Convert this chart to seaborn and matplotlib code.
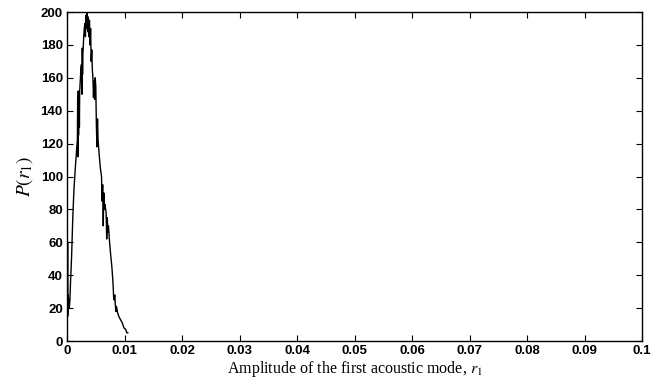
import matplotlib
matplotlib.use("Agg")
import matplotlib.pyplot as plt
import seaborn as sns
import pandas as pd

r1 = [0.0000, 0.00003, 0.00006, 0.0001, 0.00012, 0.00015, 0.0002, 0.00025, 0.0003, 0.0004,
      0.0005, 0.0006, 0.0008, 0.0010, 0.0012, 0.0014, 0.0016, 0.0017, 0.0018, 0.00185,
      0.0019, 0.00195, 0.0020, 0.00205, 0.0021, 0.00215, 0.0022, 0.0023, 0.0024, 0.0025,
      0.0026, 0.00265, 0.0027, 0.00275, 0.0028, 0.0029, 0.0030, 0.0031, 0.0032, 0.0033,
      0.0034, 0.0035, 0.0036, 0.0037, 0.0038, 0.0039, 0.0040, 0.0041, 0.0042, 0.0043,
      0.0044, 0.0045, 0.0046, 0.0047, 0.0048, 0.0049, 0.0050, 0.0051, 0.0052, 0.0053,
      0.0054, 0.0056, 0.0058, 0.0060, 0.0061, 0.0062, 0.0063, 0.0064, 0.0065, 0.0066,
      0.0068, 0.0069, 0.0070, 0.0071, 0.0072, 0.0074, 0.0076, 0.0078, 0.0080, 0.0081,
      0.0082, 0.0083, 0.0084, 0.0085, 0.0086, 0.0088, 0.0090, 0.0093, 0.0096, 0.0099,
      0.0102, 0.0104, 0.0106]
P = [0, 95, 20, 60, 15, 28, 18, 26, 22, 20,
     25, 35, 52, 75, 92, 103, 113, 118, 122, 148,
     112, 152, 125, 140, 150, 130, 152, 158, 165, 168,
     150, 178, 162, 175, 177, 185, 190, 193, 185, 198,
     190, 200, 188, 197, 185, 195, 180, 190, 170, 177,
     165, 160, 148, 158, 147, 160, 155, 132, 118, 135,
     122, 113, 105, 100, 85, 95, 70, 90, 80, 83,
     78, 62, 75, 66, 70, 60, 52, 45, 35, 27,
     25, 28, 22, 18, 21, 17, 15, 13, 11, 8,
     7, 5, 5]

df = pd.DataFrame({"r1": r1, "P": P})

sns.set_theme(style="white")
plt.rcParams["mathtext.fontset"] = "stix"

fig = plt.figure(figsize=(6.71, 3.80), dpi=100)
ax = fig.add_axes([0.0999, 0.1026, 0.8569, 0.8658])
sns.lineplot(data=df, x="r1", y="P", ax=ax, color="black", linewidth=1.0,
             estimator=None, sort=False)

ax.set_xlim(0, 0.1)
ax.set_ylim(0, 200)
ax.set_xticks([0, 0.01, 0.02, 0.03, 0.04, 0.05, 0.06, 0.07, 0.08, 0.09, 0.1])
ax.set_xticklabels(["0", "0.01", "0.02", "0.03", "0.04", "0.05", "0.06", "0.07", "0.08", "0.09", "0.1"])
ax.set_yticks(range(0, 201, 20))
for s in ax.spines.values():
    s.set_color("black")
    s.set_linewidth(1.0)
ax.tick_params(direction="in", length=4, width=0.8, top=True, right=True,
               bottom=True, left=True, labelsize=9.5, colors="black", pad=3)
for lab in ax.get_xticklabels() + ax.get_yticklabels():
    lab.set_fontweight("bold")
    lab.set_family("Liberation Sans")
ax.set_xlabel(r"Amplitude of the first acoustic mode, $r_1$", family="Liberation Serif",
              fontsize=11.5, labelpad=1, color="black")
ax.set_ylabel(r"$P(r_1)$", fontsize=14, labelpad=4, color="black")

fig.savefig("out.png", dpi=100, facecolor="white")
